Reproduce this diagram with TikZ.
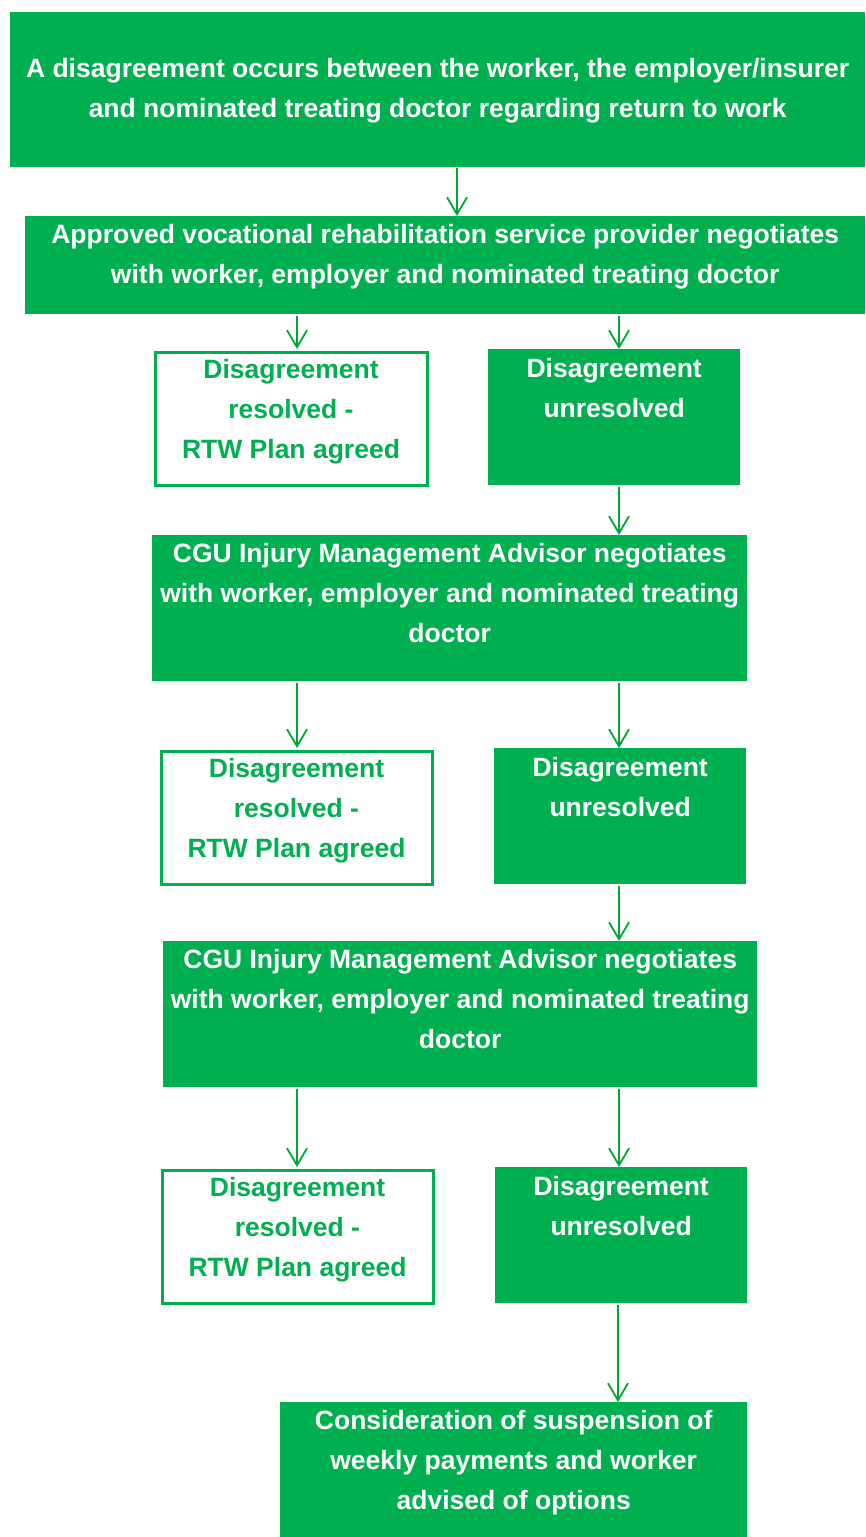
\documentclass[tikz,border=0pt]{standalone}
\usepackage{fontspec}
\setmainfont{Liberation Sans}
\usetikzlibrary{arrows.meta}
\definecolor{cgugreen}{HTML}{00B050}
\definecolor{arrowgreen}{HTML}{00A832}
\newcommand{\boxtext}[4]{\parbox[c][#2][t]{#1}{\centering\fontsize{26.5}{40}\selectfont\bfseries\rule{0pt}{#3}#4\par}}
\tikzset{
  fillbox/.style={rectangle, fill=cgugreen, text=white, inner sep=0pt, anchor=north west},
  openbox/.style={rectangle, draw=cgugreen, line width=3pt, fill=white, text=cgugreen, inner sep=0pt, anchor=north west},
  flow/.style={draw=arrowgreen, line width=1.8pt, -{Straight Barb[length=17pt,width=20pt,line width=1.8pt]}}
}
\begin{document}
\begin{tikzpicture}[x=1pt,y=-1pt]
\useasboundingbox (0,0) rectangle (865,1537);
\coordinate (cA) at (457,0);
\coordinate (cL) at (297,0);
\coordinate (cR) at (619,0);
\coordinate (cF) at (618,0);
\node[fillbox] (b1) at (10,12) {\boxtext{855pt}{155pt}{65pt}{A disagreement occurs between the worker, the employer/insurer\\and nominated treating doctor regarding return to work}};
\node[fillbox] (b2) at (25,216) {\boxtext{840pt}{98pt}{27pt}{Approved vocational rehabilitation service provider negotiates\\with worker, employer and nominated treating doctor}};
\node[openbox] (r1) at (153.5,350.5) {\boxtext{272pt}{133pt}{26.5pt}{Disagreement\\resolved -\\RTW Plan agreed}};
\node[fillbox] (u1) at (488,349) {\boxtext{252pt}{136pt}{28pt}{Disagreement\\unresolved}};
\node[fillbox] (m1) at (152,535) {\boxtext{595pt}{146pt}{27pt}{CGU Injury Management Advisor negotiates\\with worker, employer and nominated treating\\doctor}};
\node[openbox] (r2) at (159.5,749.5) {\boxtext{271pt}{133pt}{26.5pt}{Disagreement\\resolved -\\RTW Plan agreed}};
\node[fillbox] (u2) at (494,748) {\boxtext{252pt}{136pt}{28pt}{Disagreement\\unresolved}};
\node[fillbox] (m2) at (163,941) {\boxtext{594pt}{146pt}{27pt}{CGU Injury Management Advisor negotiates\\with worker, employer and nominated treating\\doctor}};
\node[openbox] (r3) at (160.5,1168.5) {\boxtext{271pt}{133pt}{26.5pt}{Disagreement\\resolved -\\RTW Plan agreed}};
\node[fillbox] (u3) at (495,1167) {\boxtext{252pt}{136pt}{28pt}{Disagreement\\unresolved}};
\node[fillbox] (f1) at (280,1402) {\boxtext{467pt}{135pt}{27pt}{Consideration of suspension of\\weekly payments and worker\\advised of options}};
\draw[flow] ([yshift=-1pt]b1.south -| cA) -- (b2.north -| cA);
\draw[flow] ([yshift=-2pt]b2.south -| cL) -- ([yshift=1.5pt]r1.north -| cL);
\draw[flow] ([yshift=-2pt]b2.south -| cR) -- (u1.north -| cR);
\draw[flow] ([yshift=-2pt]u1.south -| cR) -- (m1.north -| cR);
\draw[flow] ([yshift=-2pt]m1.south -| cL) -- ([yshift=1.5pt]r2.north -| cL);
\draw[flow] ([yshift=-2pt]m1.south -| cR) -- (u2.north -| cR);
\draw[flow] ([yshift=-2pt]u2.south -| cR) -- (m2.north -| cR);
\draw[flow] ([yshift=-2pt]m2.south -| cL) -- ([yshift=1.5pt]r3.north -| cL);
\draw[flow] ([yshift=-2pt]m2.south -| cR) -- (u3.north -| cR);
\draw[flow] ([yshift=-2pt]u3.south -| cF) -- (f1.north -| cF);
\end{tikzpicture}
\end{document}
